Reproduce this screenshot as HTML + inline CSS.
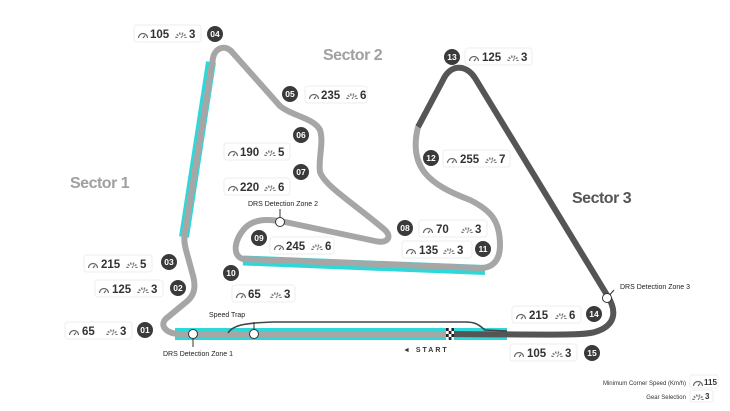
<!DOCTYPE html>
<html><head><meta charset="utf-8"><style>
html,body{margin:0;padding:0;background:#fff;width:730px;height:411px;overflow:hidden}
svg{display:block;font-family:"Liberation Sans",sans-serif}
.n{font-size:11.5px;font-weight:bold;fill:#333}
.b{font-size:8.5px;font-weight:bold;fill:#fff;text-anchor:middle}
.s{font-size:7px;fill:#222}
</style></head><body>
<svg width="730" height="411" viewBox="0 0 730 411">
<defs>
<symbol id="sp" viewBox="0 0 12 10" width="12" height="10"><path d="M1.5,9 A4.5,4.5 0 0 1 10.5,9" fill="none" stroke="#666" stroke-width="1.2"/><path d="M6,9 L8,6.5" stroke="#666" stroke-width="1.2"/></symbol>
<symbol id="gr" viewBox="0 0 12 10" width="12" height="10"><path d="M1.5,9 A4.5,4.5 0 0 1 10.5,9" fill="none" stroke="#777" stroke-width="2.4" stroke-dasharray="1.3,1.3"/><path d="M6,9 L7.5,6.5" stroke="#777" stroke-width="1"/></symbol>
</defs>
<g stroke="#2ed8d8" fill="none" stroke-linecap="butt">
<line x1="184" y1="237" x2="211" y2="62" stroke-width="10"/>
<line x1="175" y1="334" x2="507" y2="334" stroke-width="12"/>
<line x1="243" y1="260.5" x2="485" y2="270" stroke-width="10"/>
</g>
<path d="M450,334 L180,334 C165,334 158,324 168,317 L185,303 C196,295 196,285 192,272 L186,250 C184,242 184,238 185,232 L213,58 C215,48 225,44 232,52 L280,106 C292,116 314,118 320,130 C324,142 318,160 320,172 C325,186 352,202 385,230 C393,238 386,244 375,241 L285,222 C270,219 255,218 245,228 C234,240 232,256 243,259 L480,268 C495,268 500,258 500,245 C500,220 490,210 470,200 C430,185 408,168 418,127" fill="none" stroke="#a6a6a6" stroke-width="6" stroke-linejoin="round"/>
<path d="M418,127 L443,80 C450,65 465,63 475,78 L607,295 C618,312 615,326 595,332 C585,335 570,335 450,334" fill="none" stroke="#555" stroke-width="6" stroke-linejoin="round"/>
<path d="M228,333 C233,325 245,323 273,322 L465,322 C475,322 478,324 485,330 L507,331" fill="none" stroke="#444" stroke-width="1.6"/>
<g><rect x="446" y="328" width="8" height="12" fill="#fff"/>
<g fill="#222"><rect x="446" y="328" width="2.7" height="3"/><rect x="451.4" y="328" width="2.6" height="3"/><rect x="448.7" y="331" width="2.7" height="3"/><rect x="446" y="334" width="2.7" height="3"/><rect x="451.4" y="334" width="2.6" height="3"/><rect x="448.7" y="337" width="2.7" height="3"/></g></g>
<text x="403" y="352" font-size="7" font-weight="bold" fill="#333" letter-spacing="2">◄ START</text>
<g stroke="#333" stroke-width="1">
<line x1="280" y1="222" x2="280" y2="209"/><line x1="193" y1="334" x2="193" y2="347"/><line x1="254" y1="334" x2="254" y2="322"/><line x1="607" y1="298" x2="614" y2="290"/>
<g fill="#fff"><circle cx="280" cy="222" r="4.5"/><circle cx="193" cy="334" r="4.5"/><circle cx="254" cy="334" r="4.5"/><circle cx="607" cy="298" r="4.5"/></g>
</g>
<text class="s" x="248" y="206">DRS Detection Zone 2</text>
<text class="s" x="163" y="356">DRS Detection Zone 1</text>
<text class="s" x="209" y="317">Speed Trap</text>
<text class="s" x="620" y="289">DRS Detection Zone 3</text>
<text x="70" y="188" font-size="16" font-weight="bold" fill="#a0a0a0" letter-spacing="-0.5">Sector 1</text>
<text x="323" y="60" font-size="16" font-weight="bold" fill="#a0a0a0" letter-spacing="-0.5">Sector 2</text>
<text x="572" y="203" font-size="16" font-weight="bold" fill="#555" letter-spacing="-0.5">Sector 3</text>
<g fill="#3a3a3a">
<circle cx="145" cy="330" r="8"/><circle cx="178" cy="288" r="8"/><circle cx="169" cy="262" r="8"/><circle cx="215" cy="34" r="8"/><circle cx="290" cy="94" r="8"/><circle cx="301" cy="135" r="8"/><circle cx="301" cy="172" r="8"/><circle cx="405" cy="228" r="8"/><circle cx="259" cy="238" r="8"/><circle cx="231" cy="273" r="8"/><circle cx="483" cy="249" r="8"/><circle cx="431" cy="158" r="8"/><circle cx="452" cy="57" r="8"/><circle cx="594" cy="314" r="8"/><circle cx="592" cy="353" r="8"/>
</g>
<g>
<text class="b" x="145" y="333">01</text><text class="b" x="178" y="291">02</text><text class="b" x="169" y="265">03</text><text class="b" x="215" y="37">04</text><text class="b" x="290" y="97">05</text><text class="b" x="301" y="138">06</text><text class="b" x="301" y="175">07</text><text class="b" x="405" y="231">08</text><text class="b" x="259" y="241">09</text><text class="b" x="231" y="276">10</text><text class="b" x="483" y="252">11</text><text class="b" x="431" y="161">12</text><text class="b" x="452" y="60">13</text><text class="b" x="594" y="317">14</text><text class="b" x="592" y="356">15</text>
</g>
<g stroke="#eee" fill="#fff">
<rect x="134" y="25" width="67" height="17" rx="3"/><rect x="305" y="86" width="62" height="17" rx="3"/><rect x="224" y="143" width="66" height="17" rx="3"/><rect x="224" y="178" width="66" height="17" rx="3"/><rect x="270" y="237" width="64" height="17" rx="3"/><rect x="232" y="285" width="63" height="17" rx="3"/><rect x="84" y="255" width="68" height="17" rx="3"/><rect x="95" y="280" width="68" height="17" rx="3"/><rect x="65" y="322" width="67" height="17" rx="3"/><rect x="419" y="220" width="68" height="17" rx="3"/><rect x="402" y="241" width="70" height="17" rx="3"/><rect x="443" y="150" width="67" height="17" rx="3"/><rect x="465" y="48" width="67" height="17" rx="3"/><rect x="512" y="306" width="69" height="17" rx="3"/><rect x="510" y="344" width="67" height="17" rx="3"/>
<rect x="690" y="375" width="28" height="13" rx="2"/><rect x="690" y="390" width="23" height="12" rx="2"/>
</g>
<g>
<use href="#sp" x="137" y="29"/><text class="n" x="150" y="38">105</text><use href="#gr" x="175" y="29"/><text class="n" x="189" y="38">3</text>
<use href="#sp" x="308" y="90"/><text class="n" x="321" y="99">235</text><use href="#gr" x="346" y="90"/><text class="n" x="360" y="99">6</text>
<use href="#sp" x="227" y="147"/><text class="n" x="240" y="156">190</text><use href="#gr" x="264" y="147"/><text class="n" x="278" y="156">5</text>
<use href="#sp" x="227" y="182"/><text class="n" x="240" y="191">220</text><use href="#gr" x="264" y="182"/><text class="n" x="278" y="191">6</text>
<use href="#sp" x="273" y="241"/><text class="n" x="286" y="250">245</text><use href="#gr" x="311" y="241"/><text class="n" x="325" y="250">6</text>
<use href="#sp" x="235" y="289"/><text class="n" x="248" y="298">65</text><use href="#gr" x="270" y="289"/><text class="n" x="284" y="298">3</text>
<use href="#sp" x="87" y="259"/><text class="n" x="101" y="268">215</text><use href="#gr" x="126" y="259"/><text class="n" x="140" y="268">5</text>
<use href="#sp" x="98" y="284"/><text class="n" x="112" y="293">125</text><use href="#gr" x="137" y="284"/><text class="n" x="151" y="293">3</text>
<use href="#sp" x="68" y="326"/><text class="n" x="82" y="335">65</text><use href="#gr" x="106" y="326"/><text class="n" x="120" y="335">3</text>
<use href="#sp" x="422" y="224"/><text class="n" x="436" y="233">70</text><use href="#gr" x="461" y="224"/><text class="n" x="475" y="233">3</text>
<use href="#sp" x="405" y="245"/><text class="n" x="419" y="254">135</text><use href="#gr" x="443" y="245"/><text class="n" x="457" y="254">3</text>
<use href="#sp" x="446" y="154"/><text class="n" x="460" y="163">255</text><use href="#gr" x="485" y="154"/><text class="n" x="499" y="163">7</text>
<use href="#sp" x="468" y="52"/><text class="n" x="482" y="61">125</text><use href="#gr" x="507" y="52"/><text class="n" x="521" y="61">3</text>
<use href="#sp" x="515" y="310"/><text class="n" x="529" y="319">215</text><use href="#gr" x="555" y="310"/><text class="n" x="569" y="319">6</text>
<use href="#sp" x="513" y="348"/><text class="n" x="527" y="357">105</text><use href="#gr" x="551" y="348"/><text class="n" x="565" y="357">3</text>
<use href="#sp" x="692" y="377"/><text x="704" y="385" font-size="8" font-weight="bold" fill="#333">115</text>
<use href="#gr" x="692" y="391"/><text x="705" y="399" font-size="8" font-weight="bold" fill="#333">3</text>
</g>
<text x="686" y="385" font-size="6" fill="#333" text-anchor="end">Minimum Corner Speed (Km/h)</text>
<text x="686" y="399" font-size="6" fill="#333" text-anchor="end">Gear Selection</text>
</svg>
</body></html>
